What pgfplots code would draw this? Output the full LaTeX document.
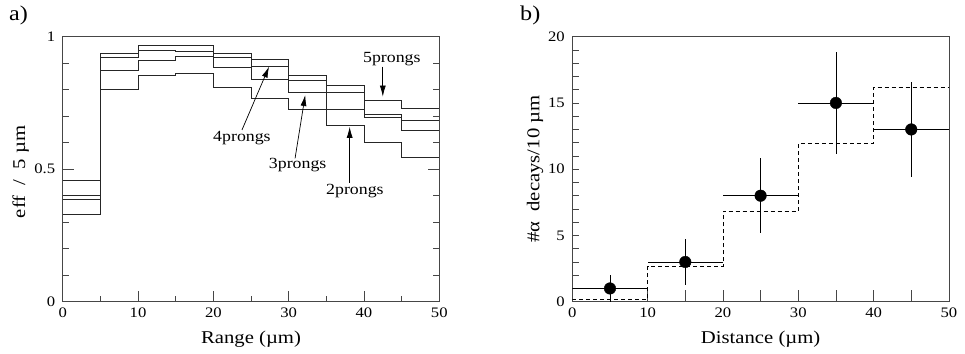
\documentclass[border=0pt]{standalone}
\usepackage{pgfplots}
\pgfplotsset{compat=1.18}
\usepackage{fontspec}
\setmainfont{Liberation Serif}[FakeStretch=1.15]
\usetikzlibrary{arrows.meta}

\pgfplotstableread{
x s5 s4 s3 s2
0  0.458 0.400 0.386 0.330
5  0.937 0.920 0.872 0.803
10 0.967 0.948 0.912 0.854
15 0.969 0.945 0.927 0.860
20 0.937 0.921 0.883 0.810
25 0.914 0.889 0.840 0.769
30 0.853 0.836 0.790 0.726
35 0.815 0.790 0.726 0.665
40 0.761 0.706 0.697 0.601
45 0.730 0.683 0.648 0.543
50 0.730 0.683 0.648 0.543
}\effdata

\pgfplotstableread{
x mc
0  0.15
10 2.65
20 6.85
30 11.95
40 16.2
50 16.2
}\mcdata

\definecolor{axgray}{RGB}{70,70,70}

\tikzset{arr/.style={-{Latex[length=11pt,width=6pt]}, black, line width=0.7pt}}

\pgfplotsset{
  myaxis/.style={
    scale only axis,
    width=376.6pt, height=265pt,
    axis line style={axgray, line width=0.8pt},
    tick style={axgray, line width=0.7pt},
    /pgf/number format/assume math mode=true,
    ticklabel style={font=\fontsize{14.5}{16}\selectfont},
    label style={font=\fontsize{18}{20}\selectfont},
    xmin=0, xmax=50,
    xtick={0,10,...,50},
    minor x tick num=1,
    xtick pos=bottom,
    xticklabel style={yshift=-3pt},
    yticklabel style={xshift=-4pt},
    xlabel style={at={(axis description cs:0.5,0)}, anchor=base, yshift=-41.3pt},
  },
}

\begin{document}
\begin{tikzpicture}
\begin{axis}[myaxis,
  ymin=0, ymax=1,
  ytick={0,0.5,1},
  minor y tick num=4,
  ytick pos=both,
  major tick length=11pt,
  minor tick length=6pt,
  xlabel={Range (µm)},
  ylabel={eff~~/~~5~µm},
  ylabel style={at={(axis description cs:-0.1001,0.49)}, anchor=base},
]
\addplot[const plot, black!85, line width=0.8pt] table[x=x,y=s5] {\effdata};
\addplot[const plot, black!85, line width=0.8pt] table[x=x,y=s4] {\effdata};
\addplot[const plot, black!85, line width=0.8pt] table[x=x,y=s3] {\effdata};
\addplot[const plot, black!85, line width=0.8pt] table[x=x,y=s2] {\effdata};

\draw[arr] (axis cs:42.5,0.887) -- (axis cs:42.5,0.774);
\draw[arr] (axis cs:23.8,0.648) -- (axis cs:27.4,0.887);
\draw[arr] (axis cs:30.85,0.541) -- (axis cs:32.2,0.780);
\draw[arr] (axis cs:38.1,0.449) -- (axis cs:38.1,0.660);

\node[font=\fontsize{15.5}{17}\selectfont] at (axis cs:43.7,0.916) {5prongs};
\node[font=\fontsize{15.5}{17}\selectfont] at (axis cs:23.8,0.617) {4prongs};
\node[font=\fontsize{15.5}{17}\selectfont] at (axis cs:31.2,0.516) {3prongs};
\node[font=\fontsize{15.5}{17}\selectfont] at (axis cs:38.8,0.418) {2prongs};
\end{axis}
\node[font=\fontsize{21}{24}\selectfont, anchor=base west] at (-57pt,281pt) {a)};

\begin{axis}[myaxis,
  at={(509.6pt,0pt)}, anchor=south west,
  ymin=0, ymax=20,
  ytick={0,5,...,20},
  minor y tick num=4,
  ytick pos=left,
  major x tick style={/pgfplots/major tick length=12pt},
  minor x tick style={/pgfplots/minor tick length=12pt},
  major y tick style={/pgfplots/major tick length=7pt},
  minor y tick style={/pgfplots/minor tick length=7pt},
  xlabel={Distance (µm)},
  ylabel={\#α~~decays/10~µm},
  ylabel style={at={(axis description cs:-0.0873,0.5)}, anchor=base},
]
\addplot[const plot, black, line width=0.8pt, dash pattern=on 4pt off 3pt] table[x=x,y=mc] {\mcdata};
\addplot[only marks, mark=*, mark size=5.8pt, black,
  error bars/.cd, x dir=both, x explicit, y dir=both, y explicit,
  error mark=none, error bar style={black, line width=0.8pt}]
  coordinates {
  (5,1) +- (5,1)
  (15,3) +- (5,1.73)
  (25,8) +- (5,2.83)
  (35,15) +- (5,3.87)
  (45,13) +- (5,3.61)
  };
\end{axis}
\node[font=\fontsize{21}{24}\selectfont, anchor=base west] at (454pt,281pt) {b)};

\pgfresetboundingbox
\path (-62.7pt,-51.3pt) rectangle (902.3pt,301.7pt);
\end{tikzpicture}
\end{document}
